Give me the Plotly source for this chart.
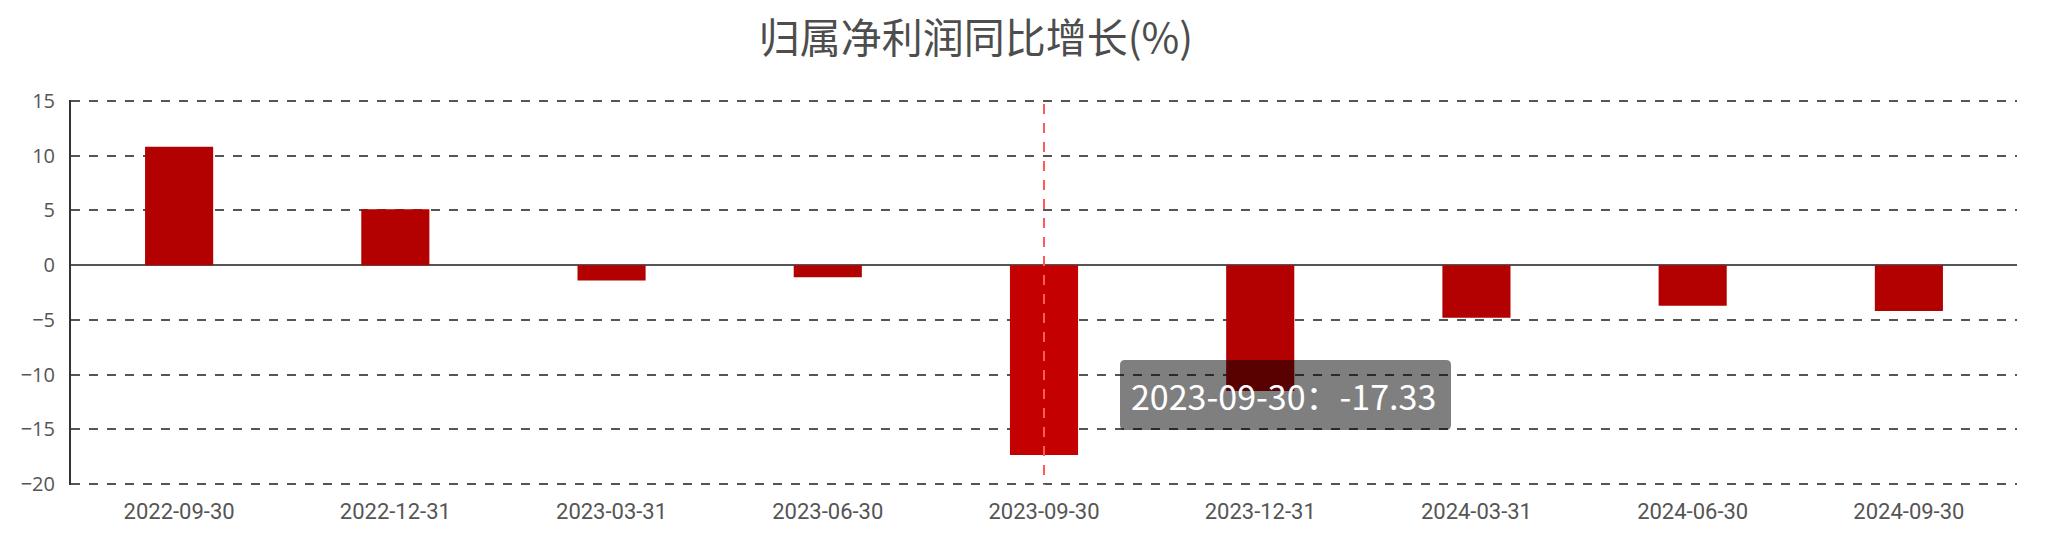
import plotly.graph_objects as go

# ---- data ----
categories = ["2022-09-30", "2022-12-31", "2023-03-31", "2023-06-30", "2023-09-30",
              "2023-12-31", "2024-03-31", "2024-06-30", "2024-09-30"]
values = [10.8, 5.1, -1.4, -1.1, -17.33, -11.5, -4.8, -3.7, -4.2]
y_ticks = [-20, -15, -10, -5, 0, 5, 10, 15]
title_text = "归属净利润同比增长(%)"
hover_index = 4

bar_color = "#b30000"
hi_color = "#c40000"
colors = [hi_color if i == hover_index else bar_color for i in range(len(values))]

W, H = 2052, 544
ML, MR, MT, MB = 71, 35, 100, 59
PW, PH = W - ML - MR, H - MT - MB
GRID = dict(color="#555555", width=2, dash="9px,9px")

fig = go.Figure()
fig.add_trace(go.Bar(
    x=categories, y=values, marker=dict(color=colors, line=dict(width=0)),
    hoverinfo="skip", showlegend=False,
))

def px2paper_x(px):
    return (px - ML) / PW

def px2paper_y(py):
    return (H - MB - py) / PH

# edge gridlines (plotly omits them at the range ends)
for yv in (min(y_ticks), max(y_ticks)):
    fig.add_shape(type="line", xref="paper", yref="y", x0=0, x1=1, y0=yv, y1=yv,
                  line=GRID, layer="below")

# axis pointer (red dashed line at hovered category)
fig.add_shape(type="line", xref="x", yref="paper",
              x0=categories[hover_index], x1=categories[hover_index],
              y0=px2paper_y(104), y1=0,
              line=dict(color="#ff5a5a", width=2, dash="10px,9px"), layer="above")

# tooltip box (rounded rect)
bx0, bx1 = px2paper_x(1120), px2paper_x(1451)
by0, by1 = px2paper_y(430), px2paper_y(360)
rx, ry = 5 / PW, 5 / PH
path = (f"M {bx0+rx},{by0} L {bx1-rx},{by0} Q {bx1},{by0} {bx1},{by0+ry} "
        f"L {bx1},{by1-ry} Q {bx1},{by1} {bx1-rx},{by1} L {bx0+rx},{by1} "
        f"Q {bx0},{by1} {bx0},{by1-ry} L {bx0},{by0+ry} Q {bx0},{by0} {bx0+rx},{by0} Z")
fig.add_shape(type="path", xref="paper", yref="paper", path=path,
              fillcolor="rgba(0,0,0,0.5)", line=dict(width=0), layer="above")
fig.add_annotation(xref="paper", yref="paper", x=(bx0 + bx1) / 2 - 2 / PW, y=(by0 + by1) / 2,
                   text=f"{categories[hover_index]}：{values[hover_index]:.2f}",
                   showarrow=False, xanchor="center", yanchor="middle",
                   font=dict(family="Noto Sans CJK SC, Open Sans, sans-serif", size=34, color="#ffffff"))

fig.update_layout(
    width=W, height=H,
    margin=dict(l=ML, r=MR, t=MT, b=MB),
    paper_bgcolor="white", plot_bgcolor="white",
    bargap=0.685,
    title=dict(text=title_text, x=976 / W, xanchor="center", y=1 - 39 / H, yanchor="middle",
               xref="container", yref="container",
               font=dict(family="Noto Sans CJK SC, sans-serif", size=41, color="#4d4d4d")),
    font=dict(family="Roboto, Noto Sans, sans-serif", color="#555555"),
)
fig.update_xaxes(type="category", showgrid=False, showline=False, ticks="",
                 tickfont=dict(family="Liberation Sans Narrow, Roboto, sans-serif", size=22,
                               color="#555555"),
                 ticklabelstandoff=11, zeroline=False)
fig.update_yaxes(range=[-20.08, 15.08], tickvals=y_ticks, showgrid=True,
                 gridcolor=GRID["color"], gridwidth=GRID["width"], griddash=GRID["dash"],
                 zeroline=True, zerolinecolor="#555555", zerolinewidth=1.5,
                 showline=True, linecolor="#333333", linewidth=2, ticks="",
                 tickfont=dict(family="Open Sans, sans-serif", size=20, color="#555555"),
                 ticklabelstandoff=10)

fig.write_html("out.html", config={"displayModeBar": False},
               post_script="document.body.style.margin='0';")
